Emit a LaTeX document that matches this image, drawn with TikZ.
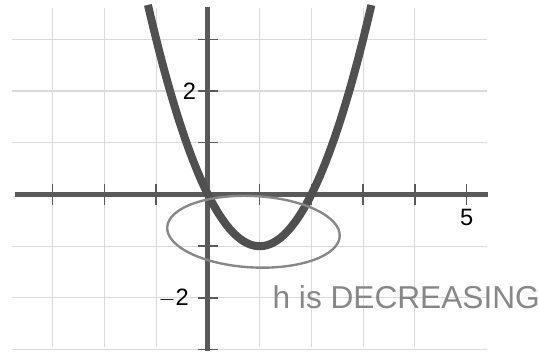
\documentclass[tikz,border=0pt]{standalone}
\usepackage{fontspec}
\setmainfont{Liberation Sans}
\definecolor{gridgray}{RGB}{218,218,218}
\definecolor{axisgray}{RGB}{90,90,90}
\definecolor{curvegray}{RGB}{80,80,80}
\definecolor{inkgray}{RGB}{135,135,135}

\begin{document}
\begin{tikzpicture}[line width=0.6pt,
        gridline/.style={gridgray, line width=0.6pt},
        ax/.style={axisgray, line width=2.7pt},
        tk/.style={axisgray, line width=0.8pt},
        lbl/.style={font=\fontsize{13}{13}\selectfont, text=black, inner sep=1pt}]

    \useasboundingbox (-4.02,-3.11) rectangle (6.40,3.76);

    % --- siatka ---
    \foreach \x in {-3,-2,-1,1,2,3,4} {
        \draw[gridline] (\x,-2.95) -- (\x,3.6);
    }
    \foreach \y in {-3,-2,-1,1,2,3} {
        \draw[gridline] (-3.78,\y) -- (5.4,\y);
    }

    % --- osie ---
    \coordinate (xl) at (-3.73,0);
    \coordinate (xr) at (5.41,0);
    \coordinate (yb) at (0,-3.03);
    \coordinate (yt) at (0,3.62);
    \draw[ax] (xl) -- (xr);
    \draw[ax] (yb) -- (yt);

    % --- kreski podziałki ---
    \foreach \x in {-3,-2,-1,1,2,3,4,5} {
        \draw[tk] (\x,-0.2) -- (\x,0.2);
    }
    \foreach \y in {-3,-2,-1,1,2,3} {
        \draw[tk] (-0.2,\y) -- (0.2,\y);
    }

    % --- opisy ---
    \node[lbl] (l2) at (-0.36,2) {2};
    \node[lbl] (lm2) at (-0.66,-2) {$-$2};
    \node[lbl] (l5) at (5,-0.45) {5};

    % --- parabola y = x^2 - 2x ---
    \draw[curvegray, line width=4.4pt, domain=-1.16:3.16, samples=80]
        plot (\x, {\x*\x - 2*\x});

    % --- odręczna pętla i napis ---
    \draw[inkgray, line width=1.3pt, rotate around={-3:(0.88,-0.72)}]
        (0.88,-0.72) ellipse (1.67 and 0.69);
    \node[inkgray, anchor=west, inner sep=0pt,
        font=\fontsize{17.4}{17.4}\selectfont] (note) at (1.24,-1.98) {h is DECREASING};

\end{tikzpicture}
\end{document}
